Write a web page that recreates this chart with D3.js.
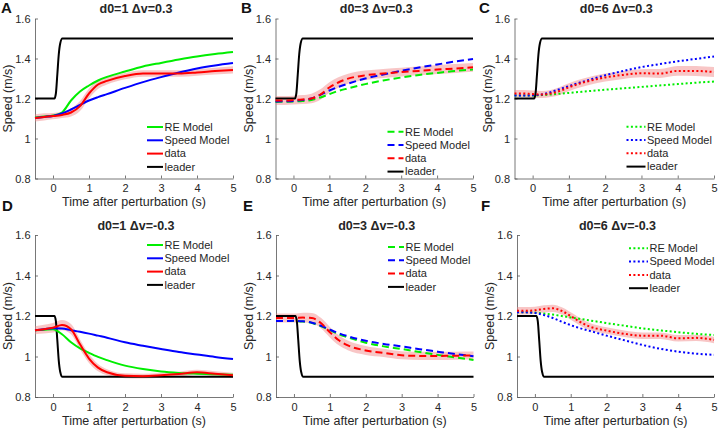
<!DOCTYPE html>
<html><head><meta charset="utf-8">
<script src="https://cdn.jsdelivr.net/npm/d3@7"></script>
<style>
body{margin:0;background:#fff;}
svg{display:block;font-family:"Liberation Sans",Arial,sans-serif;}
</style></head>
<body><svg id="chart" width="718" height="433"></svg>
<script>
// ---------------- data ----------------
const times = [-0.5,-0.25,0,0.25,0.5,0.75,1,1.25,1.5,2,2.5,3,3.5,4,4.5,5];
const leaderTimes = [-0.5,0.04,0.08,0.12,0.16,0.2,0.26,5];
const leaderUp = [1.2,1.2,1.225,1.32,1.42,1.475,1.5,1.5];
const leaderDown = [1.2,1.2,1.175,1.08,0.98,0.925,0.9,0.9];

const panelLetters = ["A","B","C","D","E","F"];
const panelTitles = ["d0=1 \u0394v=0.3","d0=3 \u0394v=0.3","d0=6 \u0394v=0.3","d0=1 \u0394v=-0.3","d0=3 \u0394v=-0.3","d0=6 \u0394v=-0.3"];
const lineStyles = ["solid","dashed","dotted","solid","dashed","dotted"];
const legendLabels = ["RE Model","Speed Model","data","leader"];
const xTicks = [0,1,2,3,4,5];
const yTicks = [0.8,1,1.2,1.4,1.6];
const xLabel = "Time after perturbation (s)";
const yLabel = "Speed (m/s)";

const reModel = [
  [1.105,1.11,1.115,1.13,1.19,1.235,1.265,1.29,1.308,1.335,1.36,1.378,1.395,1.41,1.422,1.432],
  [1.183,1.184,1.185,1.187,1.192,1.205,1.222,1.238,1.25,1.272,1.29,1.305,1.318,1.328,1.338,1.345],
  [1.215,1.215,1.215,1.217,1.22,1.224,1.228,1.232,1.236,1.244,1.251,1.258,1.265,1.272,1.279,1.285],
  [1.13,1.132,1.135,1.11,1.07,1.04,1.018,0.998,0.982,0.955,0.938,0.926,0.919,0.915,0.912,0.91],
  [1.175,1.175,1.175,1.173,1.165,1.15,1.13,1.11,1.095,1.068,1.05,1.037,1.022,1.008,0.995,0.983],
  [1.218,1.218,1.217,1.212,1.207,1.2,1.193,1.186,1.179,1.165,1.152,1.139,1.129,1.12,1.112,1.106]
];
const speedModel = [
  [1.103,1.108,1.113,1.125,1.145,1.168,1.19,1.207,1.222,1.253,1.282,1.307,1.33,1.35,1.365,1.377],
  [1.185,1.186,1.188,1.192,1.2,1.218,1.24,1.258,1.273,1.3,1.32,1.338,1.355,1.37,1.385,1.397],
  [1.215,1.215,1.216,1.22,1.232,1.247,1.262,1.277,1.29,1.316,1.338,1.357,1.372,1.386,1.398,1.41],
  [1.13,1.135,1.14,1.138,1.13,1.122,1.113,1.103,1.093,1.07,1.053,1.037,1.022,1.01,0.998,0.988],
  [1.175,1.175,1.176,1.174,1.167,1.152,1.133,1.115,1.1,1.078,1.062,1.05,1.036,1.024,1.012,1.001],
  [1.218,1.218,1.215,1.205,1.19,1.172,1.155,1.14,1.128,1.103,1.08,1.057,1.038,1.024,1.014,1.008]
];
const dataMean = [
  [1.103,1.108,1.112,1.118,1.13,1.162,1.225,1.27,1.288,1.312,1.325,1.325,1.325,1.33,1.337,1.343],
  [1.19,1.19,1.192,1.195,1.2,1.22,1.255,1.28,1.298,1.316,1.325,1.332,1.338,1.345,1.35,1.356],
  [1.225,1.225,1.222,1.22,1.225,1.238,1.256,1.272,1.285,1.305,1.318,1.326,1.325,1.338,1.338,1.332],
  [1.13,1.135,1.142,1.155,1.135,1.06,0.99,0.945,0.922,0.905,0.903,0.907,0.913,0.922,0.915,0.908],
  [1.19,1.19,1.19,1.192,1.19,1.165,1.12,1.08,1.055,1.03,1.018,1.006,1.003,1.003,1.004,1.005],
  [1.226,1.226,1.228,1.235,1.238,1.225,1.2,1.172,1.15,1.128,1.112,1.103,1.103,1.09,1.092,1.082]
];
const dataSpread = [
  [0.018,0.018,0.016,0.016,0.02,0.025,0.025,0.022,0.018,0.016,0.016,0.016,0.016,0.016,0.017,0.018],
  [0.022,0.022,0.022,0.022,0.024,0.026,0.026,0.026,0.025,0.024,0.023,0.022,0.022,0.022,0.022,0.022],
  [0.018,0.018,0.018,0.018,0.018,0.02,0.02,0.02,0.02,0.02,0.02,0.02,0.022,0.024,0.025,0.025],
  [0.02,0.022,0.024,0.025,0.025,0.024,0.022,0.018,0.015,0.012,0.012,0.012,0.012,0.012,0.012,0.012],
  [0.022,0.022,0.022,0.024,0.025,0.026,0.026,0.025,0.024,0.022,0.02,0.02,0.02,0.02,0.02,0.02],
  [0.018,0.018,0.018,0.018,0.018,0.018,0.018,0.018,0.018,0.016,0.016,0.016,0.016,0.016,0.016,0.016]
];

// ---------------- layout ----------------
const colors = {re:"#00ee00", speed:"#0000ff", data:"#ff0000", leader:"#000000", band:"#f08080"};
const dashes = {solid:null, dashed:"7,4", dotted:"2,2.4"};
const axesBox = [
  {x0:35,  x1:233, y0:18.5, y1:178.5},
  {x0:275.5,x1:473, y0:18.5, y1:178.5},
  {x0:514.5,x1:714, y0:18.5, y1:178.5},
  {x0:35,  x1:233, y0:235, y1:397},
  {x0:276, x1:473.5, y0:235, y1:397},
  {x0:517, x1:714, y0:235, y1:397}
];
const legendTop = [127,131.7,126.7,245,247,248.3];
const letterPos = [[1,13],[241,13],[479,13],[2,211],[243,211],[481,211]];
const textColor = "#262626";

const svg = d3.select("#chart");

axesBox.forEach((b,i)=>{
  const x = d3.scaleLinear().domain([-0.5,5]).range([b.x0,b.x1]);
  const y = d3.scaleLinear().domain([0.8,1.6]).range([b.y1,b.y0]);
  const g = svg.append("g");
  const style = lineStyles[i];

  // axes
  const xa = g.append("g").attr("transform",`translate(0,${b.y1})`)
    .call(d3.axisBottom(x).tickValues(xTicks).tickSizeInner(-3).tickSizeOuter(0).tickPadding(6).tickFormat(d3.format("d")));
  const ya = g.append("g").attr("transform",`translate(${b.x0},0)`)
    .call(d3.axisLeft(y).tickValues(yTicks).tickSizeInner(-3).tickSizeOuter(0).tickPadding(4.5).tickFormat(d=>String(+d.toFixed(1))));
  [xa,ya].forEach(a=>{
    a.selectAll("path,line").attr("stroke","#555").attr("stroke-width",0.8);
    a.selectAll("text").attr("fill",textColor).style("font-size","11px");
  });
  ya.selectAll("text").attr("dy","0.35em");

  // labels
  g.append("text").attr("x",(b.x0+b.x1)/2).attr("y",b.y1+27.5).attr("text-anchor","middle")
    .attr("fill",textColor).style("font-size","12.5px").text(xLabel);
  g.append("text").attr("transform",`translate(${b.x0-27},${(b.y0+b.y1)/2}) rotate(-90)`)
    .attr("text-anchor","middle").attr("dy","0.35em").attr("fill",textColor).style("font-size","12.5px").text(yLabel);
  g.append("text").attr("x",(b.x0+b.x1)/2+2).attr("y",b.y0-5.5).attr("text-anchor","middle")
    .attr("fill",textColor).style("font-size","12.5px").style("font-weight","bold").text(panelTitles[i]);
  svg.append("text").attr("x",letterPos[i][0]).attr("y",letterPos[i][1])
    .attr("fill","#111").style("font-size","15px").style("font-weight","bold").text(panelLetters[i]);

  // band
  const bandPts = times.map((t,k)=>({t, lo:dataMean[i][k]-dataSpread[i][k], hi:dataMean[i][k]+dataSpread[i][k]}));
  g.append("path").datum(bandPts)
    .attr("d",d3.area().x(d=>x(d.t)).y0(d=>y(d.lo)).y1(d=>y(d.hi)).curve(d3.curveMonotoneX))
    .attr("fill",colors.band).attr("opacity",0.45);

  const line = d3.line().x(d=>x(d[0])).y(d=>y(d[1])).curve(d3.curveMonotoneX);
  const leader = i<3 ? leaderUp : leaderDown;
  const series = [
    {v:reModel[i], c:colors.re, dash:dashes[style]},
    {v:speedModel[i], c:colors.speed, dash:dashes[style]},
    {v:dataMean[i], c:colors.data, dash:dashes[style]}
  ];
  g.append("path").datum(leaderTimes.map((t,k)=>[t,leader[k]]))
    .attr("d",line).attr("fill","none").attr("stroke",colors.leader).attr("stroke-width",2);
  series.forEach(s=>{
    g.append("path").datum(times.map((t,k)=>[t,s.v[k]]))
      .attr("d",line).attr("fill","none").attr("stroke",s.c).attr("stroke-width",2)
      .attr("stroke-dasharray",s.dash);
  });

  // legend
  const lx0 = b.x0 + 112, lx1 = b.x0 + (style==="dotted"?131:128);
  const lc = [colors.re,colors.speed,colors.data,colors.leader];
  legendLabels.forEach((lab,k)=>{
    const ly = legendTop[i] + k*13.3;
    g.append("line").attr("x1",lx0).attr("x2",lx1).attr("y1",ly).attr("y2",ly)
      .attr("stroke",lc[k]).attr("stroke-width",2)
      .attr("stroke-dasharray",k<3?dashes[style]:null);
    g.append("text").attr("x",lx1+1.5).attr("y",ly).attr("dy","0.35em")
      .attr("fill",textColor).style("font-size","11px").text(lab);
  });
});
</script></body></html>
